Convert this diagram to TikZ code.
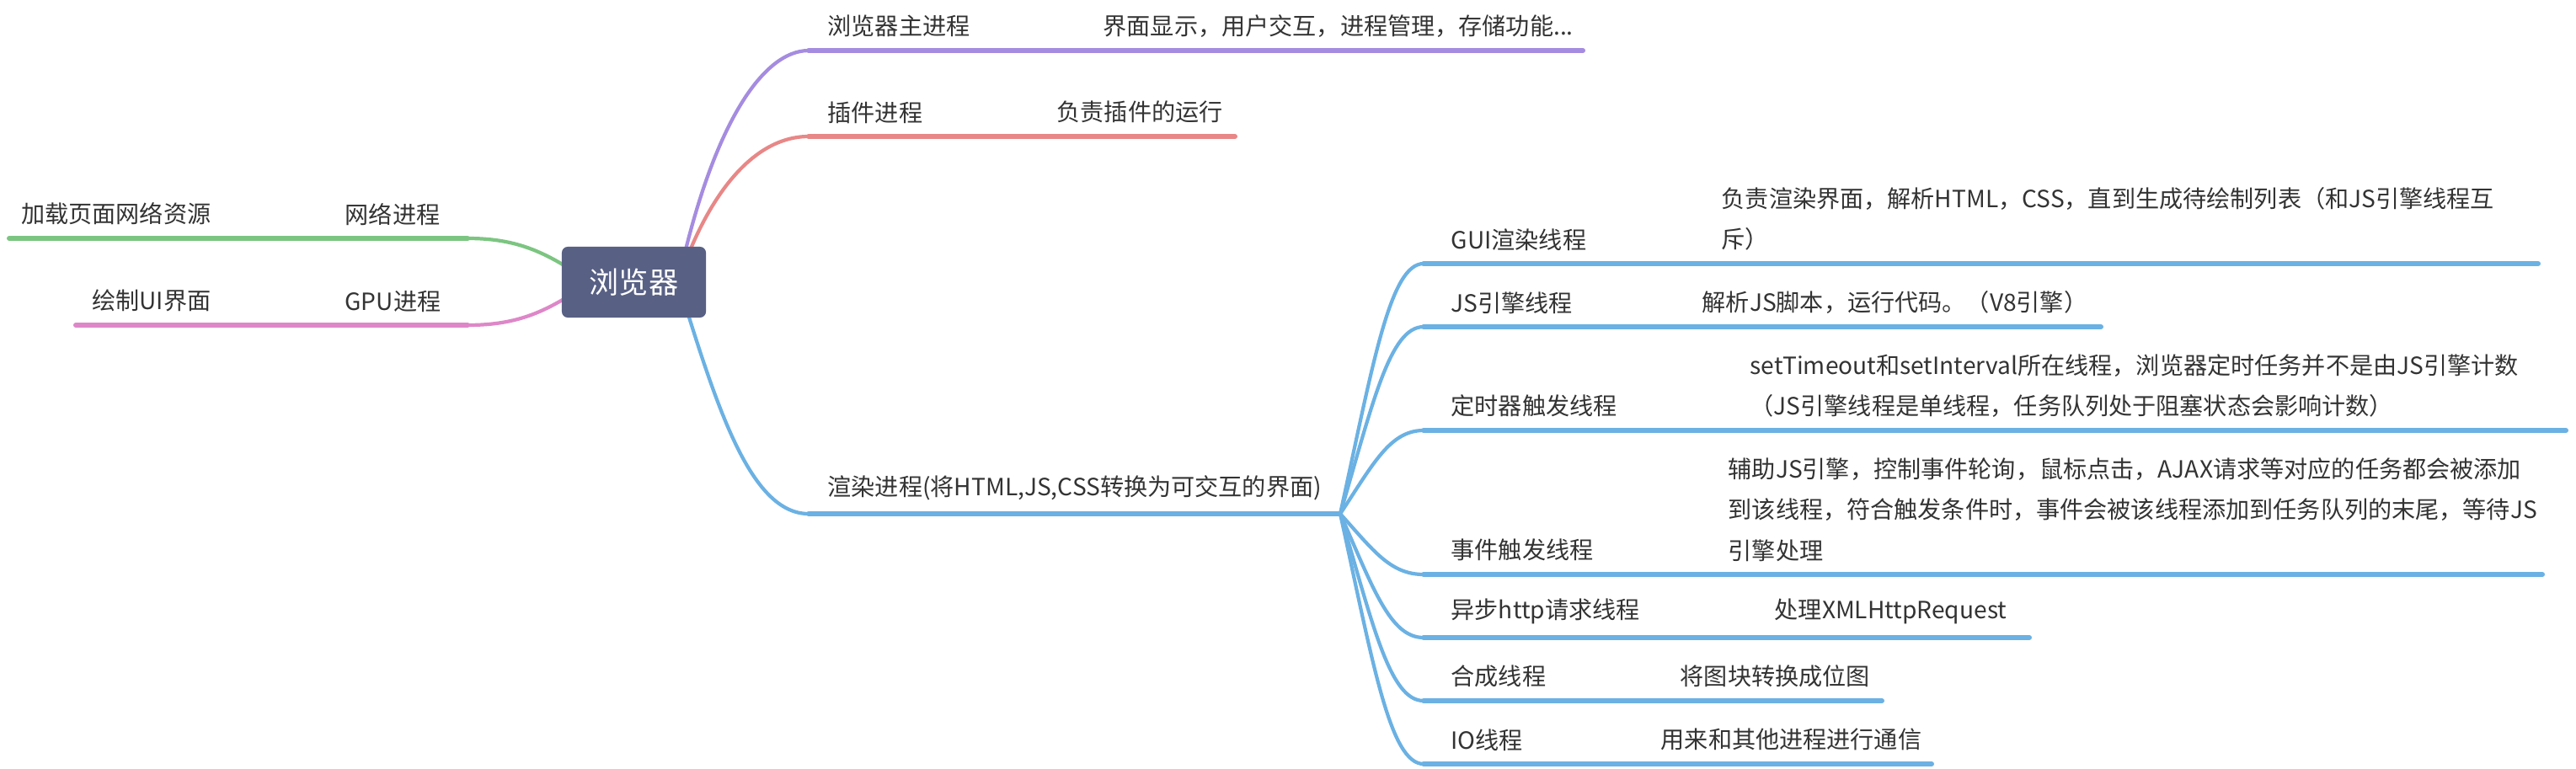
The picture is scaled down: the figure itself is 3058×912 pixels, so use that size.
\documentclass[tikz,border=0pt]{standalone}
\usepackage{fontspec}
\setmainfont{Noto Sans CJK SC}
\usetikzlibrary{positioning,calc}
\definecolor{rootc}{HTML}{586084}
\definecolor{cMain}{HTML}{A58CE0}
\definecolor{cPlug}{HTML}{E88787}
\definecolor{cNet}{HTML}{7CC581}
\definecolor{cGpu}{HTML}{DE87C8}
\definecolor{cRend}{HTML}{6BB1E3}
\definecolor{txt}{HTML}{333333}
\begin{document}
\begin{tikzpicture}[x=0.01cm,y=-0.01cm,
  lbl/.style={inner sep=0pt,anchor=south west,align=left,text=txt,font=\fontsize{8}{13.66}\selectfont},
  lblr/.style={lbl,anchor=south east,align=right},
  curv/.style={line width=1.2pt,line cap=round},
  bar/.style={line width=1.7pt,line cap=round},
  root/.style={fill=rootc,rounded corners=2pt,minimum width=1.71cm,minimum height=0.84cm,inner sep=0pt,text=white,font=\fontsize{10}{12}\selectfont}]
\useasboundingbox (0,0) rectangle (3058,912);
\coordinate (hubR) at (805,335);
\coordinate (hubL) at (700,335);
\coordinate (J) at (1591,610);
\coordinate (mainC) at (960,60);
\coordinate (plugC) at (960,162);
\coordinate (rendC) at (960,610);
\coordinate (netC) at (555,283);
\coordinate (gpuC) at (555,386);
\draw[curv,cMain](hubR) .. controls (845,150) and (905,60) .. (mainC);
\draw[bar,cMain](mainC) -- (1879,60);
\draw[curv,cPlug](hubR) .. controls (840,230) and (895,162) .. (plugC);
\draw[bar,cPlug](plugC) -- (1466,162);
\draw[curv,cRend](hubR) .. controls (850,480) and (890,610) .. (rendC);
\draw[bar,cRend](rendC) -- (J);
\draw[curv,cNet](hubL) .. controls (650,300) and (615,283) .. (netC);
\draw[bar,cNet](netC) -- (11,283);
\draw[curv,cGpu](hubL) .. controls (650,370) and (615,386) .. (gpuC);
\draw[bar,cGpu](gpuC) -- (90,386);
\coordinate (guiC) at (1690,313);
\coordinate (jsC) at (1690,388);
\coordinate (timerC) at (1690,511);
\coordinate (evtC) at (1690,682);
\coordinate (httpC) at (1690,757);
\coordinate (compC) at (1690,832);
\coordinate (ioC) at (1690,907);
\draw[curv,cRend](J) .. controls (1630,432) and (1650,313) .. (guiC);
\draw[bar,cRend](guiC) -- (3013,313);
\draw[curv,cRend](J) .. controls (1630,477) and (1650,388) .. (jsC);
\draw[bar,cRend](jsC) -- (2494,388);
\draw[curv,cRend](J) .. controls (1630,551) and (1650,511) .. (timerC);
\draw[bar,cRend](timerC) -- (3046,511);
\draw[curv,cRend](J) .. controls (1630,653) and (1650,682) .. (evtC);
\draw[bar,cRend](evtC) -- (3018,682);
\draw[curv,cRend](J) .. controls (1630,698) and (1650,757) .. (httpC);
\draw[bar,cRend](httpC) -- (2409,757);
\draw[curv,cRend](J) .. controls (1630,743) and (1650,832) .. (compC);
\draw[bar,cRend](compC) -- (2234,832);
\draw[curv,cRend](J) .. controls (1630,788) and (1650,907) .. (ioC);
\draw[bar,cRend](ioC) -- (2293,907);
\node[root] (browser) at (752.5,335) {浏览器};
\node[lbl] (mainP) at (982,45) {浏览器主进程};
\node[lbl] (mainD) at (1309,45) {界面显示，用户交互，进程管理，存储功能...};
\node[lbl] (plugP) at (982,147) {插件进程};
\node[lbl] (plugD) at (1254,147) {负责插件的运行};
\node[lbl] (rendP) at (982,595) {渲染进程(将HTML,JS,CSS转换为可交互的界面)};
\node[lblr] (netP) at (523,268) {网络进程};
\node[lblr] (netD) at (251,268) {加载页面网络资源};
\node[lblr] (gpuP) at (524,371) {GPU进程};
\node[lblr] (gpuD) at (251,371) {绘制UI界面};
\node[lbl] (gui) at (1722,298) {GUI渲染线程};
\node[lbl] (guiD) at (2043,298) {负责渲染界面，解析HTML，CSS，直到生成待绘制列表（和JS引擎线程互\\斥）};
\node[lbl] (jsT) at (1722,373) {JS引擎线程};
\node[lbl] (jsD) at (2020,373) {解析JS脚本，运行代码。（V8引擎）};
\node[lbl] (timer) at (1722,496) {定时器触发线程};
\node[lbl] (timerD) at (2077,496) {setTimeout和setInterval所在线程，浏览器定时任务并不是由JS引擎计数\\（JS引擎线程是单线程，任务队列处于阻塞状态会影响计数）};
\node[lbl] (evt) at (1722,667) {事件触发线程};
\node[lbl] (evtD) at (2051,667) {辅助JS引擎，控制事件轮询，鼠标点击，AJAX请求等对应的任务都会被添加\\到该线程，符合触发条件时，事件会被该线程添加到任务队列的末尾，等待JS\\引擎处理};
\node[lbl] (http) at (1722,742) {异步http请求线程};
\node[lbl] (httpD) at (2106,742) {处理XMLHttpRequest};
\node[lbl] (comp) at (1722,817) {合成线程};
\node[lbl] (compD) at (1994,817) {将图块转换成位图};
\node[lbl] (io) at (1722,892) {IO线程};
\node[lbl] (ioD) at (1971,892) {用来和其他进程进行通信};
\end{tikzpicture}
\end{document}
